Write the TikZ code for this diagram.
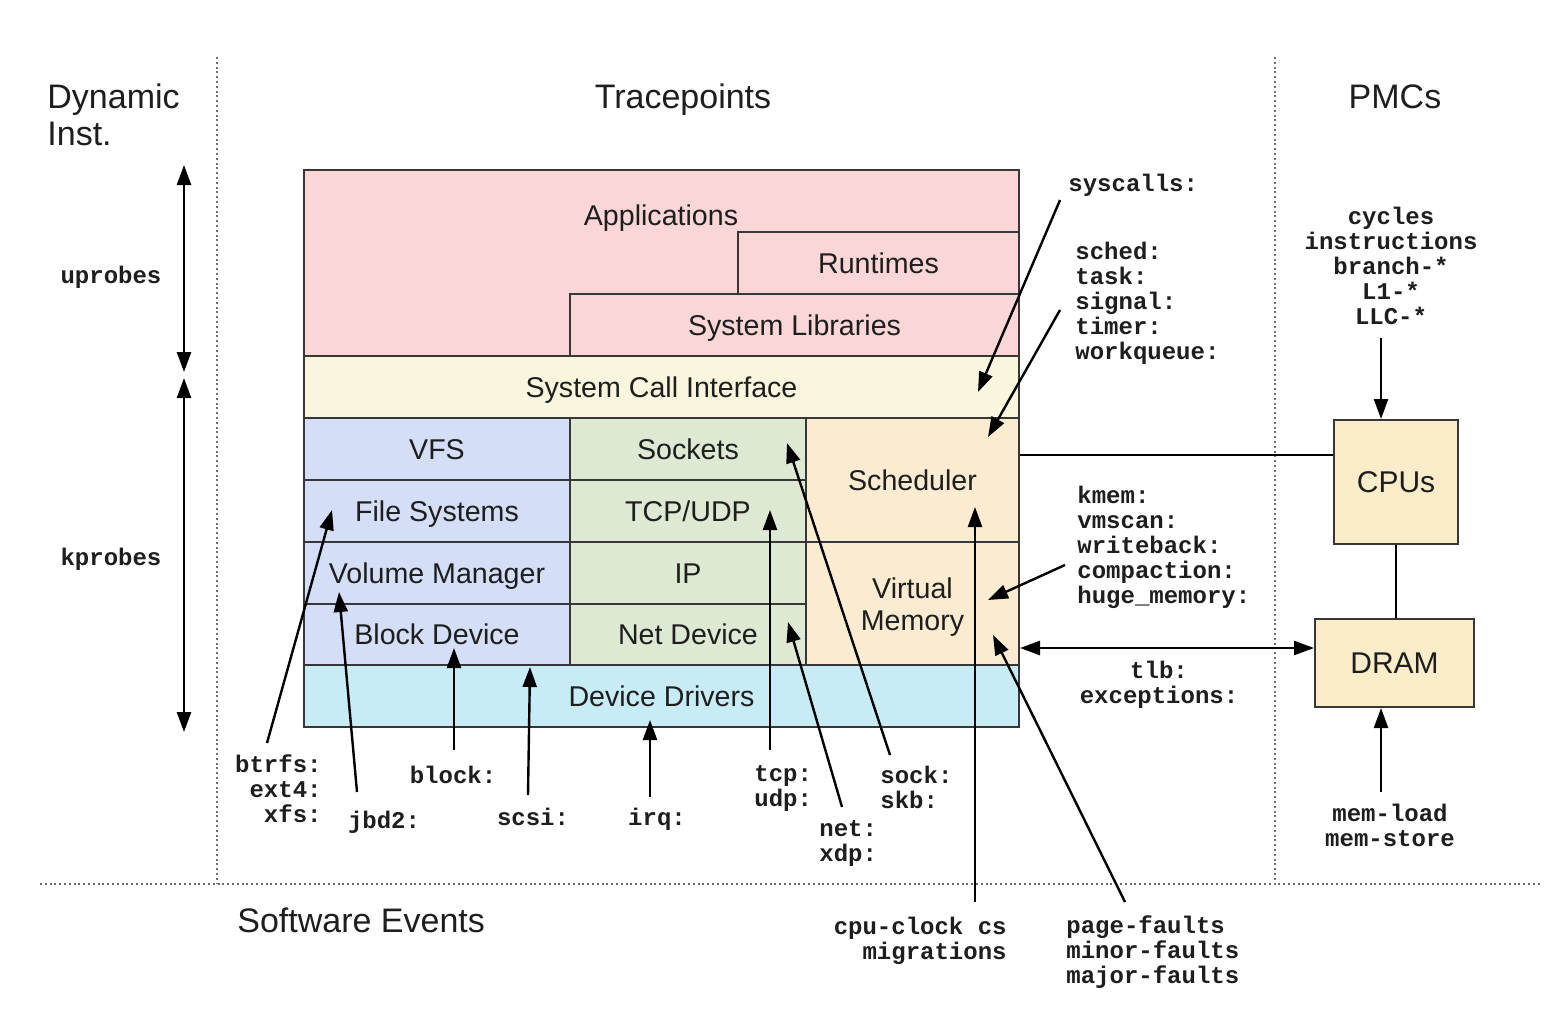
\documentclass[tikz,border=0pt]{standalone}
\usepackage{fontspec}
\setmainfont{Liberation Sans}
\setmonofont{Liberation Mono}
\usetikzlibrary{arrows.meta,fit,calc}
\definecolor{pinkc}{RGB}{250,214,215}
\definecolor{yelc}{RGB}{250,246,221}
\definecolor{bluec}{RGB}{212,222,246}
\definecolor{greenc}{RGB}{221,233,211}
\definecolor{orangec}{RGB}{251,235,208}
\definecolor{cyanc}{RGB}{200,236,246}
\definecolor{cpuc}{RGB}{251,236,202}
\definecolor{linec}{RGB}{55,55,55}
\definecolor{txtc}{RGB}{30,30,30}
\definecolor{sepc}{RGB}{110,110,110}
\newcommand\FontBox{\fontsize{14.3pt}{16pt}\selectfont}
\newcommand\FontBig{\fontsize{15pt}{17pt}\selectfont}
\newcommand\FontHead{\fontsize{17pt}{18.5pt}\selectfont}
\newcommand\FontCode{\fontsize{12pt}{12.5pt}\selectfont\ttfamily\bfseries}
\begin{document}
\begin{tikzpicture}[x=0.5pt,y=-0.5pt,
  box/.style={draw=linec, line width=1pt, inner sep=0pt},
  boxtext/.style={inner sep=0pt, text=txtc, font=\FontBox, text height=0.75em, text depth=0.05em, yshift=-1.5pt},
  code/.style={inner sep=0pt, text=txtc, font=\FontCode, yshift=-1pt},
  head/.style={inner sep=0pt, text=txtc, font=\FontHead},
  headone/.style={head, text height=0.75em, text depth=0.05em, yshift=-2.5pt},
  arr/.style={draw=black, line width=1.2pt, -{Triangle[length=10pt,width=7pt]}},
  darr/.style={draw=black, line width=1.2pt, {Triangle[length=10pt,width=7pt]}-{Triangle[length=10pt,width=7pt]}},
  conn/.style={draw=black, line width=1.1pt},
  sep/.style={draw=sepc, line width=0.8pt, dash pattern=on 1pt off 1.4pt}]
\fill[white] (0,0) rectangle (1550,1022);
\useasboundingbox (0,0) rectangle (1550,1022);

% separators
\draw[sep] (217,57) -- (217,883);
\draw[sep] (1275,57) -- (1275,883);
\draw[sep] (40,884) -- (1540,884);

% headings
\node[head, anchor=west, align=left] (dyn) at (47,114.5) {Dynamic\\Inst.};
\node[headone] (tp) at (683,96) {Tracepoints};
\node[headone] (pmcs) at (1395,96) {PMCs};
\node[headone, anchor=west] (swev) at (237,920) {Software Events};

% stack boxes
\node[box, fill=pinkc, fit={(304,170)(1019,356)}] (apps) {};
\node[box, fill=pinkc, fit={(738,232)(1019,294)}] (runtimes) {};
\node[box, fill=pinkc, fit={(570,294)(1019,356)}] (syslibs) {};
\node[box, fill=yelc, fit={(304,356)(1019,418)}] (sci) {};
\node[box, fill=bluec, fit={(304,418)(570,480)}] (vfs) {};
\node[box, fill=bluec, fit={(304,480)(570,542)}] (fs) {};
\node[box, fill=bluec, fit={(304,542)(570,604)}] (volmgr) {};
\node[box, fill=bluec, fit={(304,604)(570,665)}] (blockdev) {};
\node[box, fill=greenc, fit={(570,418)(806,480)}] (sockets) {};
\node[box, fill=greenc, fit={(570,480)(806,542)}] (tcpudp) {};
\node[box, fill=greenc, fit={(570,542)(806,604)}] (ip) {};
\node[box, fill=greenc, fit={(570,604)(806,665)}] (netdev) {};
\node[box, fill=orangec, fit={(806,418)(1019,542)}] (sched) {};
\node[box, fill=orangec, fit={(806,542)(1019,665)}] (virtmem) {};
\node[box, fill=cyanc, fit={(304,665)(1019,727)}] (dd) {};
\node[box, fill=cpuc, fit={(1334,420)(1458,544)}] (cpus) {};
\node[box, fill=cpuc, fit={(1315,619)(1474,707)}] (dram) {};

% box texts
\node[boxtext] (appslbl) at (661,215) {Applications};
\node[boxtext] (rtlbl) at (runtimes.center) {Runtimes};
\node[boxtext] (sllbl) at (syslibs.center) {System Libraries};
\node[boxtext] (scilbl) at (sci.center) {System Call Interface};
\node[boxtext] (vfslbl) at (vfs.center) {VFS};
\node[boxtext] (fslbl2) at (fs.center) {File Systems};
\node[boxtext] (vmlbl) at (volmgr.center) {Volume Manager};
\node[boxtext] (bdlbl) at (blockdev.center) {Block Device};
\node[boxtext] (socklbl2) at (sockets.center) {Sockets};
\node[boxtext] (tulbl) at (tcpudp.center) {TCP/UDP};
\node[boxtext] (iplbl) at (ip.center) {IP};
\node[boxtext] (ndlbl) at (netdev.center) {Net Device};
\node[boxtext] (schedtxt) at (sched.center) {Scheduler};
\node[inner sep=0pt, text=txtc, font=\FontBox, align=center, yshift=-2pt] (virttxt) at (virtmem.center) {Virtual\\Memory};
\node[boxtext] (ddlbl) at (dd.center) {Device Drivers};
\node[boxtext, font=\FontBig] (cpustxt) at (cpus.center) {CPUs};
\node[boxtext, font=\FontBig] (dramtxt) at (dram.center) {DRAM};

% code labels
\node[code] (uprobes) at (111,275) {uprobes};
\node[code] (kprobes) at (111,557) {kprobes};
\node[code, anchor=west] (syscalls) at (1068,183) {syscalls:};
\node[code, anchor=west, align=left] (schedlbl) at (1075,301.5) {sched:\\task:\\signal:\\timer:\\workqueue:};
\node[code, align=center] (pmclbl) at (1391,264) {cycles\\instructions\\branch-*\\L1-*\\LLC-*};
\node[code, anchor=west, align=left] (kmemlbl) at (1077,545) {kmem:\\vmscan:\\writeback:\\compaction:\\huge\_memory:};
\node[code, align=center] (tlblbl) at (1159,682.5) {tlb:\\exceptions:};
\node[code, align=center] (memlbl) at (1390,823.5) {mem-load\\mem-store};
\node[code, anchor=east, align=right] (fslbl) at (322,786.5) {btrfs:\\ext4:\\xfs:};
\node[code] (jbd2lbl) at (384,820) {jbd2:};
\node[code] (blocklbl) at (453,773) {block:};
\node[code] (scsilbl) at (533,815) {scsi:};
\node[code] (irqlbl) at (657,817) {irq:};
\node[code, anchor=west, align=left] (tcplbl) at (754,786) {tcp:\\udp:};
\node[code, anchor=west, align=left] (netlbl) at (819,841) {net:\\xdp:};
\node[code, anchor=west, align=left] (socklbl) at (880,785) {sock:\\skb:};
\node[code, anchor=east, align=right] (cpulbl) at (1007,938.5) {cpu-clock cs\\migrations};
\node[code, anchor=west, align=left] (pflbl) at (1066,950.5) {page-faults\\minor-faults\\major-faults};

% arrow coordinates
\coordinate (hSys) at (978,392);   \coordinate (tSys) at (1060,200);
\coordinate (hSched) at (988,437); \coordinate (tSched) at (1060,310);
\coordinate (hKmem) at (988,600);  \coordinate (tKmem) at (1065,565);
\coordinate (hPF) at (993,635);    \coordinate (tPF) at (1125,902);
\coordinate (hCpu) at (975,507);   \coordinate (tCpu) at (975,902);
\coordinate (hSock) at (787,443);  \coordinate (tSock) at (890,755);
\coordinate (hNet) at (788,622);   \coordinate (tNet) at (842,807);
\coordinate (hTcp) at (770,510);   \coordinate (tTcp) at (770,750);
\coordinate (hIrq) at (650,720);   \coordinate (tIrq) at (650,797);
\coordinate (hScsi) at (530,667);  \coordinate (tScsi) at (528,795);
\coordinate (hBlock) at (454,648); \coordinate (tBlock) at (454,750);
\coordinate (hJbd) at (339,592);   \coordinate (tJbd) at (357,792);
\coordinate (hBtrfs) at (332,510); \coordinate (tBtrfs) at (267,743);
\coordinate (tPmc) at (1381,338);
\coordinate (tMem) at (1381,792);
\coordinate (upT) at (184,165);    \coordinate (upB) at (184,372);
\coordinate (kpT) at (184,378);    \coordinate (kpB) at (184,732);
\coordinate (cpuY) at (0,455);
\coordinate (tlbY) at (0,648);

% arrows
\draw[arr] (tSys) -- (hSys);
\draw[arr] (tSched) -- (hSched);
\draw[arr] (tKmem) -- (hKmem);
\draw[arr] (tPF) -- (hPF);
\draw[arr] (tCpu) -- (hCpu);
\draw[arr] (tSock) -- (hSock);
\draw[arr] (tNet) -- (hNet);
\draw[arr] (tTcp) -- (hTcp);
\draw[arr] (tIrq) -- (hIrq);
\draw[arr] (tScsi) -- (hScsi);
\draw[arr] (tBlock) -- (hBlock);
\draw[arr] (tJbd) -- (hJbd);
\draw[arr] (tBtrfs) -- (hBtrfs);
\draw[arr] (tPmc) -- (tPmc |- cpus.north);
\draw[arr] (tMem) -- (tMem |- dram.south);
\draw[darr] (upT) -- (upB);
\draw[darr] (kpT) -- (kpB);
\draw[darr] (virtmem.east |- tlbY) -- (dram.west |- tlbY);
\draw[conn] (sched.east |- cpuY) -- (cpus.west |- cpuY);
\draw[conn] (cpus.south) -- (cpus.south |- dram.north);
\end{tikzpicture}
\end{document}
